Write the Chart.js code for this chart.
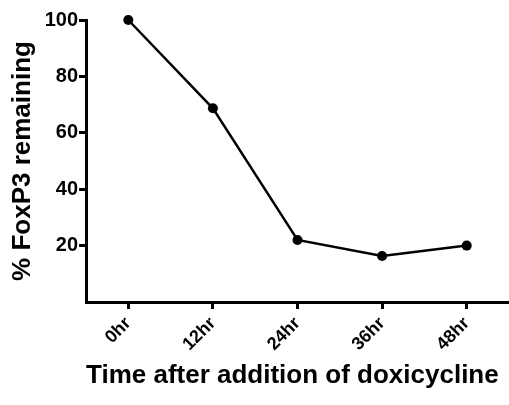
<!DOCTYPE html>
<html>
<head>
<meta charset="utf-8">
<script src="https://cdn.jsdelivr.net/npm/chart.js@4"></script>
<style>
  html, body { margin: 0; padding: 0; background: #fff; }
  #wrap { width: 509px; height: 405px; }
</style>
</head>
<body>
<div id="wrap"><canvas id="graphic" width="509" height="405"></canvas></div>
<script>
var timeLabels = ['0hr', '12hr', '24hr', '36hr', '48hr'];
var foxp3Remaining = [100, 68.7, 22, 16.3, 20];
var yTickValues = [20, 40, 60, 80, 100];

var fontFamily = '"Liberation Sans", Arial, Helvetica, sans-serif';

var ctx = document.getElementById('graphic').getContext('2d');

var foxData = {
    labels: timeLabels,
    datasets: [{
        label: '% FoxP3 remaining',
        data: foxp3Remaining,
        borderColor: '#000',
        backgroundColor: '#000',
        borderWidth: 2.5,
        pointRadius: 5,
        pointBackgroundColor: '#000',
        pointBorderWidth: 0,
        tension: 0,
        fill: false,
        clip: false
    }]
};

var foxOptions = {
    responsive: false,
    animation: false,
    layout: {
        autoPadding: false,
        padding: { top: 20, right: 0, bottom: 0, left: 0 }
    },
    plugins: {
        legend: { display: false },
        tooltip: { enabled: false }
    },
    scales: {
        x: {
            type: 'category',
            offset: true,
            afterFit: function (scale) {
                scale.height = 103;
                scale.paddingLeft = 0;
                scale.paddingRight = 0;
            },
            grid: {
                offset: false,
                drawOnChartArea: false,
                drawTicks: true,
                tickLength: 7,
                tickWidth: 3,
                tickColor: '#000'
            },
            border: { display: true, color: '#000', width: 3 },
            ticks: {
                color: '#000',
                padding: 4,
                minRotation: 45,
                maxRotation: 45,
                font: { family: fontFamily, size: 18, weight: 'bold' }
            },
            title: {
                display: true,
                text: 'Time after addition of doxicycline',
                color: '#000',
                align: 'start',
                padding: { top: 0, bottom: 14 },
                font: { family: fontFamily, size: 26, weight: 'bold' }
            }
        },
        y: {
            min: 0,
            max: 100,
            afterFit: function (scale) { scale.width = 86; },
            afterBuildTicks: function (scale) {
                scale.ticks = yTickValues.map(function (v) { return { value: v }; });
            },
            grid: {
                drawOnChartArea: false,
                drawTicks: true,
                tickLength: 7,
                tickWidth: 3,
                tickColor: '#000'
            },
            border: { display: true, color: '#000', width: 3 },
            ticks: {
                color: '#000',
                padding: 1,
                font: { family: fontFamily, size: 20, weight: 'bold' }
            },
            title: {
                display: true,
                text: '% FoxP3 remaining',
                color: '#000',
                padding: { top: 7, bottom: 0 },
                font: { family: fontFamily, size: 26, weight: 'bold' }
            }
        }
    }
};

var graphic = new Chart(ctx, {
    type: 'line',
    data: foxData,
    options: foxOptions
});
</script>
</body>
</html>
